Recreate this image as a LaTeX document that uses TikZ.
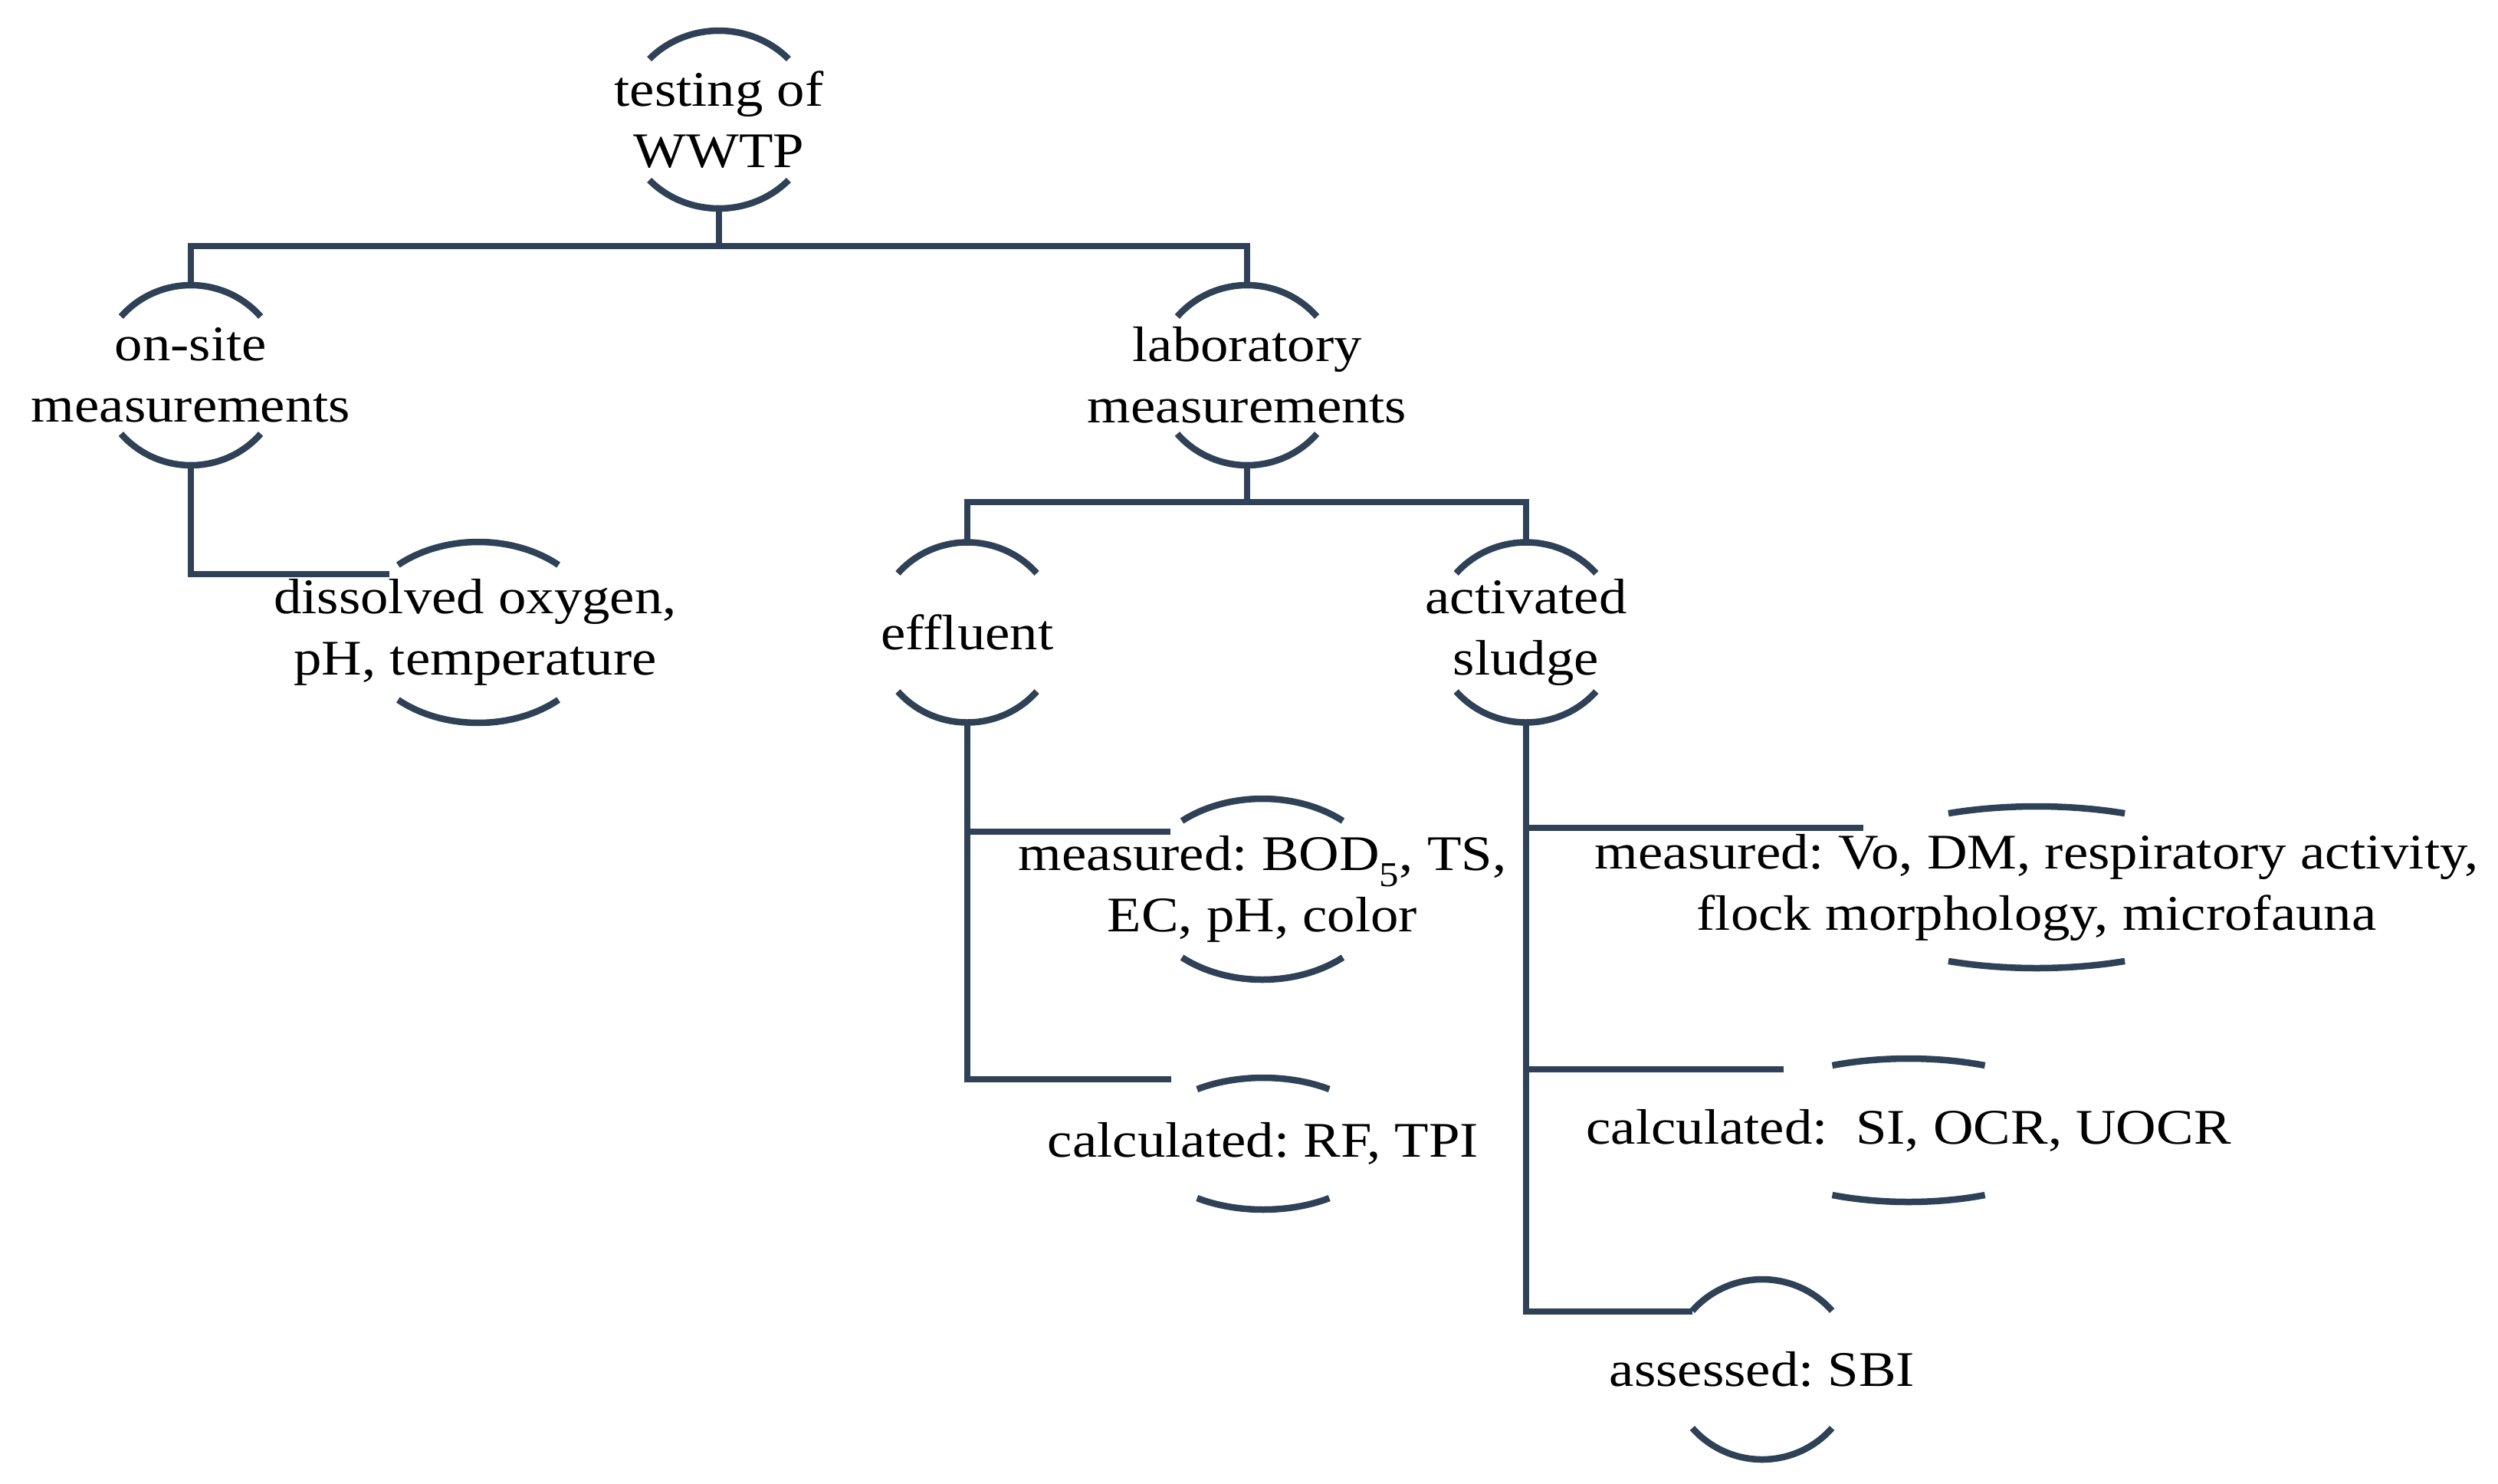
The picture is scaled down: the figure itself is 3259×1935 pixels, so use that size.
\documentclass[tikz,border=0pt]{standalone}
\usepackage{fontspec}
\setmainfont{Liberation Serif}[FakeStretch=1.12]
\definecolor{linec}{HTML}{2E4156}
\newcommand\mainfs{\fontsize{65}{80}\selectfont\frenchspacing}
% #1 node, #2 x shift, #3 x radius, #4 y radius, #5 half-angle start
\newcommand\ringarcs[5]{%
  \draw[arcst] (#1.center) ++(#2pt,0) ++(#5:#3pt and #4pt)
     arc[start angle=#5, end angle={180-#5}, x radius=#3pt, y radius=#4pt];
  \draw[arcst] (#1.center) ++(#2pt,0) ++({180+#5}:#3pt and #4pt)
     arc[start angle={180+#5}, end angle={360-#5}, x radius=#3pt, y radius=#4pt];}
\tikzset{
  conn/.style={draw=linec, line width=8.5pt},
  arcst/.style={draw=linec, line width=8.5pt},
  lbl/.style={rectangle, inner sep=0pt, align=center, font=\mainfs, text=black},
}
\begin{document}
\begin{tikzpicture}[x=1pt, y=-1pt]
\useasboundingbox (0,0) rectangle (3259,1935);

% nodes
\node[lbl, minimum height=232pt] (root) at (938,156) {testing of\\WWTP};
\node[lbl, minimum height=235pt] (onsite) at (249,489.5) {on-site\\measurements};
\node[lbl, minimum height=235pt] (lab) at (1627,489.5) {laboratory\\measurements};
\node[lbl, minimum height=236pt] (dis) at (620,825) {dissolved oxygen,\\pH, temperature};
\node[lbl, minimum height=235pt] (eff) at (1262,825) {effluent};
\node[lbl, minimum height=235pt] (act) at (1991,825) {activated\\sludge};
\node[lbl, minimum height=236pt] (bod) at (1647,1160) {measured: BOD\textsubscript{5}, TS,\\EC, pH, color};
\node[lbl, minimum height=172pt] (rf) at (1648,1492) {calculated: RF, TPI};
\node[lbl, minimum height=211pt] (vo) at (2657,1157.5) {measured: Vo, DM, respiratory activity,\\flock morphology, microfauna};
\node[lbl, minimum height=187pt] (si) at (2490,1474.5) {calculated:\ \ SI, OCR, UOCR};
\node[lbl, minimum height=235pt] (sbi) at (2299,1786.5) {assessed: SBI};

% arcs
\ringarcs{root}{0}{124}{116}{42.9}
\ringarcs{onsite}{0}{120}{117.5}{40.6}
\ringarcs{lab}{0}{120}{117.5}{40.6}
\ringarcs{dis}{4}{157}{118}{48.2}
\ringarcs{eff}{0}{120}{117.5}{41}
\ringarcs{act}{0}{121}{117.5}{41}
\ringarcs{bod}{0}{160}{118}{49}
\ringarcs{rf}{0}{153}{86}{55.7}
\ringarcs{vo}{0}{283}{105.5}{66}
\ringarcs{si}{0}{233}{93.5}{64.7}
\ringarcs{sbi}{0}{120}{117.5}{40.6}

% connector end points
\coordinate (j1) at (938,321);
\coordinate (j2) at (1627,655);
\coordinate (disin) at (508,749);
\coordinate (bodin) at (1527,1085);
\coordinate (rfin) at (1528,1408);
\coordinate (voin) at (2431,1080);
\coordinate (siin) at (2327,1395);
\coordinate (sbiin) at (2208,1711);

% connectors
\draw[conn] (root.south) -- (j1);
\draw[conn] (onsite.north) |- (j1) -| (lab.north);
\draw[conn] (onsite.south) |- (disin);
\draw[conn] (lab.south) -- (j2);
\draw[conn] (eff.north) |- (j2) -| (act.north);
\draw[conn] (eff.south) |- (rfin);
\draw[conn] (eff.south |- bodin) -- (bodin);
\draw[conn] (act.south) |- (sbiin);
\draw[conn] (act.south |- voin) -- (voin);
\draw[conn] (act.south |- siin) -- (siin);
\end{tikzpicture}
\end{document}
